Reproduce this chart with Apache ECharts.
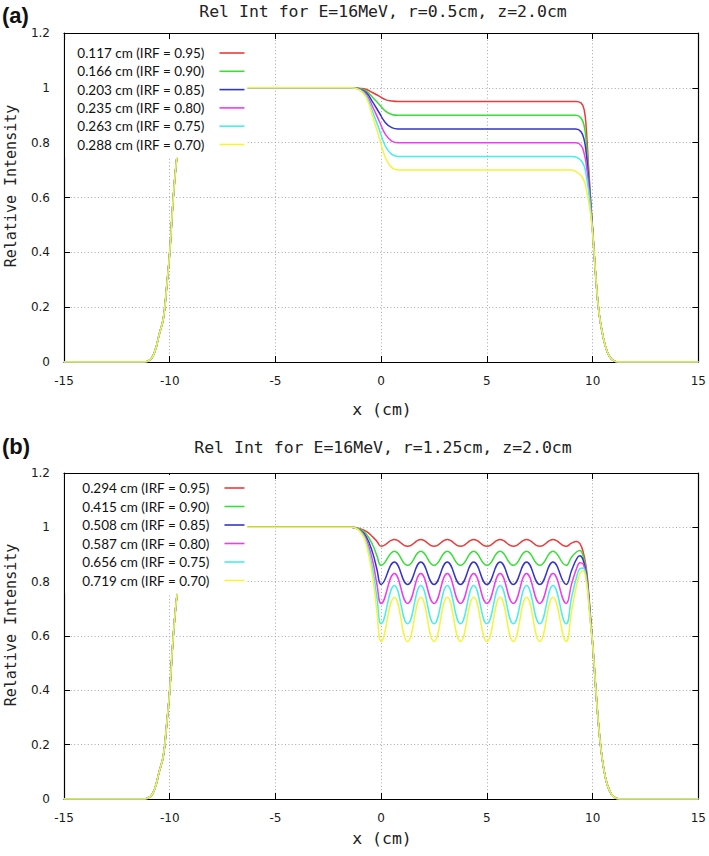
<!DOCTYPE html>
<html><head><meta charset="utf-8">
<script src="https://cdn.jsdelivr.net/npm/echarts@6/dist/echarts.min.js"></script>
<style>html,body{margin:0;padding:0;background:#fff}#c{width:709px;height:856px}</style>
</head><body><div id="c"></div>
<script>
// ---------- data ----------
const colors = ['#f03a3a', '#3ade3a', '#3434cc', '#ee3cee', '#46eeee', '#f4f43e'];
const legendA = ['0.117 cm (IRF = 0.95)', '0.166 cm (IRF = 0.90)', '0.203 cm (IRF = 0.85)',
                 '0.235 cm (IRF = 0.80)', '0.263 cm (IRF = 0.75)', '0.288 cm (IRF = 0.70)'];
const legendB = ['0.294 cm (IRF = 0.95)', '0.415 cm (IRF = 0.90)', '0.508 cm (IRF = 0.85)',
                 '0.587 cm (IRF = 0.80)', '0.656 cm (IRF = 0.75)', '0.719 cm (IRF = 0.70)'];
const titleA = 'Rel Int for E=16MeV, r=0.5cm, z=2.0cm';
const titleB = 'Rel Int for E=16MeV, r=1.25cm, z=2.0cm';
const xName = 'x (cm)';
const yName = 'Relative Intensity';

// panel (a): shared x positions (cm)
const xA = [-15, -11.2, -10.9, -10.7, -10.5, -10.3, -10.15, -10.0, -9.85, -9.7, -9.5, -9.3, -9.1, -8.8,
            -1.4, -1.0, -0.7, -0.4, -0.1, 0.2, 0.5, 0.8, 1.2,
            9.0, 9.2, 9.45, 9.6, 9.7, 9.8, 9.9,
            10.0, 10.15, 10.3, 10.5, 10.7, 10.9, 11.2, 15];
const yA95 = [0, 0, 0.01, 0.04, 0.1, 0.16, 0.27, 0.4, 0.58, 0.72, 0.85, 0.94, 0.98, 1,
              1, 0.998, 0.994, 0.982, 0.97, 0.957, 0.952, 0.95, 0.95,
              0.95, 0.95, 0.945, 0.92, 0.85, 0.72, 0.6,
              0.48, 0.31, 0.18, 0.09, 0.035, 0.01, 0, 0];
const yA90 = [0, 0, 0.01, 0.04, 0.1, 0.16, 0.27, 0.4, 0.58, 0.72, 0.85, 0.94, 0.98, 1,
              1, 0.997, 0.988, 0.965, 0.94, 0.915, 0.903, 0.90, 0.90,
              0.90, 0.90, 0.89, 0.86, 0.80, 0.70, 0.59,
              0.48, 0.31, 0.18, 0.09, 0.035, 0.01, 0, 0];
const yA85 = [0, 0, 0.01, 0.04, 0.1, 0.16, 0.27, 0.4, 0.58, 0.72, 0.85, 0.94, 0.98, 1,
              1, 0.995, 0.982, 0.948, 0.91, 0.873, 0.855, 0.85, 0.85,
              0.85, 0.85, 0.84, 0.81, 0.76, 0.68, 0.58,
              0.48, 0.31, 0.18, 0.09, 0.035, 0.01, 0, 0];
const yA80 = [0, 0, 0.01, 0.04, 0.1, 0.16, 0.27, 0.4, 0.58, 0.72, 0.85, 0.94, 0.98, 1,
              1, 0.994, 0.976, 0.93, 0.88, 0.83, 0.806, 0.80, 0.80,
              0.80, 0.80, 0.79, 0.76, 0.72, 0.65, 0.57,
              0.47, 0.31, 0.18, 0.09, 0.035, 0.01, 0, 0];
const yA75 = [0, 0, 0.01, 0.04, 0.1, 0.16, 0.27, 0.4, 0.58, 0.72, 0.85, 0.94, 0.98, 1,
              1, 0.992, 0.97, 0.912, 0.85, 0.787, 0.757, 0.75, 0.75,
              0.75, 0.748, 0.735, 0.715, 0.68, 0.63, 0.56,
              0.47, 0.31, 0.18, 0.09, 0.035, 0.01, 0, 0];
const yA70 = [0, 0, 0.01, 0.04, 0.1, 0.16, 0.27, 0.4, 0.58, 0.72, 0.85, 0.94, 0.98, 1,
              1, 0.991, 0.964, 0.895, 0.82, 0.745, 0.709, 0.70, 0.70,
              0.70, 0.695, 0.68, 0.66, 0.63, 0.59, 0.54,
              0.47, 0.31, 0.18, 0.09, 0.035, 0.01, 0, 0];

// panel (b): shared x positions (cm)
const xB = [-15, -11.2, -10.9, -10.7, -10.5, -10.3, -10.15, -10.0, -9.85, -9.7, -9.5, -9.3, -9.1, -8.8,
            -1.4, -1.0, -0.7, -0.4, -0.2,
            0, 0.625, 1.25, 1.875, 2.5, 3.125, 3.75, 4.375, 5, 5.625, 6.25, 6.875, 7.5, 8.125, 8.75,
            9.0, 9.25, 9.4, 9.55, 9.7, 9.8, 9.9,
            10.0, 10.1, 10.25, 10.4, 10.6, 10.8, 11.0, 11.3, 15];
const yB95 = [0, 0, 0.01, 0.04, 0.1, 0.16, 0.27, 0.4, 0.58, 0.72, 0.85, 0.94, 0.98, 1,
              1, 0.995, 0.985, 0.965, 0.948,
              0.93, 0.955, 0.93, 0.955, 0.93, 0.955, 0.93, 0.955, 0.93, 0.955, 0.93, 0.955, 0.93, 0.955, 0.93,
              0.942, 0.948, 0.94, 0.91, 0.85, 0.77, 0.67,
              0.57, 0.46, 0.3, 0.18, 0.08, 0.03, 0.008, 0, 0];
const yB90 = [0, 0, 0.01, 0.04, 0.1, 0.16, 0.27, 0.4, 0.58, 0.72, 0.85, 0.94, 0.98, 1,
              1, 0.993, 0.975, 0.935, 0.895,
              0.86, 0.912, 0.86, 0.912, 0.86, 0.912, 0.86, 0.912, 0.86, 0.912, 0.86, 0.912, 0.86, 0.912, 0.86,
              0.89, 0.91, 0.915, 0.895, 0.84, 0.76, 0.665,
              0.57, 0.46, 0.3, 0.18, 0.08, 0.03, 0.008, 0, 0];
const yB85 = [0, 0, 0.01, 0.04, 0.1, 0.16, 0.27, 0.4, 0.58, 0.72, 0.85, 0.94, 0.98, 1,
              1, 0.99, 0.965, 0.905, 0.845,
              0.79, 0.872, 0.79, 0.872, 0.79, 0.872, 0.79, 0.872, 0.79, 0.872, 0.79, 0.872, 0.79, 0.872, 0.79,
              0.84, 0.885, 0.895, 0.88, 0.83, 0.755, 0.66,
              0.57, 0.46, 0.3, 0.18, 0.08, 0.03, 0.008, 0, 0];
const yB80 = [0, 0, 0.01, 0.04, 0.1, 0.16, 0.27, 0.4, 0.58, 0.72, 0.85, 0.94, 0.98, 1,
              1, 0.988, 0.955, 0.875, 0.79,
              0.72, 0.83, 0.72, 0.83, 0.72, 0.83, 0.72, 0.83, 0.72, 0.83, 0.72, 0.83, 0.72, 0.83, 0.72,
              0.79, 0.85, 0.87, 0.865, 0.82, 0.75, 0.655,
              0.57, 0.46, 0.3, 0.18, 0.08, 0.03, 0.008, 0, 0];
const yB75 = [0, 0, 0.01, 0.04, 0.1, 0.16, 0.27, 0.4, 0.58, 0.72, 0.85, 0.94, 0.98, 1,
              1, 0.986, 0.945, 0.845, 0.74,
              0.645, 0.786, 0.645, 0.786, 0.645, 0.786, 0.645, 0.786, 0.645, 0.786, 0.645, 0.786, 0.645, 0.786, 0.645,
              0.74, 0.82, 0.848, 0.85, 0.81, 0.74, 0.65,
              0.57, 0.46, 0.3, 0.18, 0.08, 0.03, 0.008, 0, 0];
const yB70 = [0, 0, 0.01, 0.04, 0.1, 0.16, 0.27, 0.4, 0.58, 0.72, 0.85, 0.94, 0.98, 1,
              1, 0.984, 0.935, 0.815, 0.69,
              0.58, 0.743, 0.58, 0.743, 0.58, 0.743, 0.58, 0.743, 0.58, 0.743, 0.58, 0.743, 0.58, 0.743, 0.58,
              0.69, 0.79, 0.83, 0.84, 0.8, 0.73, 0.645,
              0.57, 0.46, 0.3, 0.18, 0.08, 0.03, 0.008, 0, 0];

const seriesA = [yA95, yA90, yA85, yA80, yA75, yA70];
const seriesB = [yB95, yB90, yB85, yB80, yB75, yB70];

// ---------- chart ----------
const TICK_FONT = 'DejaVu Sans';
const MONO = 'DejaVu Sans Mono';
const zip = (xs, ys) => xs.map((x, i) => [x, ys[i]]);

function xAxes(gi) {
  const common = { gridIndex: gi, type: 'value', min: -15, max: 15, interval: 5 };
  return [
    Object.assign({}, common, {
      position: 'bottom',
      axisLine: { show: true, onZero: false, lineStyle: { color: '#000', width: 1.2 } },
      axisTick: { show: true, inside: true, length: 6, lineStyle: { color: '#000', width: 1 } },
      axisLabel: { margin: 13, fontFamily: TICK_FONT, fontSize: 12, color: '#1a1a1a' },
      splitLine: { show: true, lineStyle: { color: '#a8a8a8', width: 1, type: [1, 2.4] } }
    }),
    Object.assign({}, common, {
      position: 'top',
      axisLine: { show: true, onZero: false, lineStyle: { color: '#000', width: 1.2 } },
      axisTick: { show: true, inside: true, length: 6, lineStyle: { color: '#000', width: 1 } },
      axisLabel: { show: false }, splitLine: { show: false }
    })
  ];
}
function yAxes(gi) {
  const common = { gridIndex: gi, type: 'value', min: 0, max: 1.2, interval: 0.2 };
  return [
    Object.assign({}, common, {
      position: 'left',
      axisLine: { show: true, onZero: false, lineStyle: { color: '#000', width: 1.2 } },
      axisTick: { show: true, inside: true, length: 6, lineStyle: { color: '#000', width: 1 } },
      axisLabel: { margin: 14, fontFamily: TICK_FONT, fontSize: 12, color: '#1a1a1a' },
      splitLine: { show: true, lineStyle: { color: '#a8a8a8', width: 1, type: [1, 2.4] } }
    }),
    Object.assign({}, common, {
      position: 'right',
      axisLine: { show: true, onZero: false, lineStyle: { color: '#000', width: 1.2 } },
      axisTick: { show: true, inside: true, length: 6, lineStyle: { color: '#000', width: 1 } },
      axisLabel: { show: false }, splitLine: { show: false }
    })
  ];
}

const series = [];
seriesA.forEach((ys, i) => series.push({
  name: legendA[i], type: 'line', xAxisIndex: 0, yAxisIndex: 0,
  data: zip(xA, ys), showSymbol: false, symbol: 'none', smooth: 0.45,
  lineStyle: { color: colors[i], width: 1.5 }, itemStyle: { color: colors[i] }, z: 2 + i * 0.01
}));
seriesB.forEach((ys, i) => series.push({
  name: legendB[i], type: 'line', xAxisIndex: 2, yAxisIndex: 2,
  data: zip(xB, ys), showSymbol: false, symbol: 'none', smooth: 0.45,
  lineStyle: { color: colors[i], width: 1.5 }, itemStyle: { color: colors[i] }, z: 2 + i * 0.01
}));

const legendText = { fontFamily: 'Lato', fontSize: 13.5, color: '#111', lineHeight: 14, padding: [0, 10, 0, 0] };

const option = {
  animation: false,
  backgroundColor: '#fff',
  grid: [
    { left: 64, top: 33, width: 635, height: 329 },
    { left: 64, top: 473, width: 635, height: 326 }
  ],
  xAxis: xAxes(0).concat(xAxes(1)),
  yAxis: yAxes(0).concat(yAxes(1)),
  legend: [
    { data: legendA, orient: 'vertical', align: 'right', left: 65, top: 40,
      padding: [6, 2, 6, 12], itemGap: 4.3, itemWidth: 25, itemHeight: 14,
      itemStyle: { opacity: 0 }, lineStyle: { width: 1.6 },
      backgroundColor: '#fff', textStyle: legendText, selectedMode: false, z: 10 },
    { data: legendB, orient: 'vertical', align: 'right', left: 65, top: 475,
      padding: [6, 2, 6, 17], itemGap: 4.5, itemWidth: 20, itemHeight: 14,
      itemStyle: { opacity: 0 }, lineStyle: { width: 1.6 },
      backgroundColor: '#fff', textStyle: legendText, selectedMode: false, z: 10 }
  ],
  graphic: [
    { type: 'text', x: 2, y: 15, style: { text: '(a)', font: 'bold 22px "Liberation Sans"', fill: '#111', verticalAlign: 'middle' } },
    { type: 'text', x: 383, y: 11, style: { text: titleA, font: '16.5px "' + MONO + '"', fill: '#222', align: 'center', verticalAlign: 'middle' } },
    { type: 'text', x: 382, y: 409, style: { text: xName, font: '16.5px "' + MONO + '"', fill: '#222', align: 'center', verticalAlign: 'middle' } },
    { type: 'text', x: 11, y: 186, rotation: Math.PI / 2, style: { text: yName, font: '15px "' + MONO + '"', fill: '#222', align: 'center', verticalAlign: 'middle' } },
    { type: 'text', x: 2, y: 446, style: { text: '(b)', font: 'bold 22px "Liberation Sans"', fill: '#111', verticalAlign: 'middle' } },
    { type: 'text', x: 383, y: 447, style: { text: titleB, font: '16.5px "' + MONO + '"', fill: '#222', align: 'center', verticalAlign: 'middle' } },
    { type: 'text', x: 382, y: 838, style: { text: xName, font: '16.5px "' + MONO + '"', fill: '#222', align: 'center', verticalAlign: 'middle' } },
    { type: 'text', x: 11, y: 625, rotation: Math.PI / 2, style: { text: yName, font: '15px "' + MONO + '"', fill: '#222', align: 'center', verticalAlign: 'middle' } }
  ],
  series: series
};

const chart = echarts.init(document.getElementById('c'), null, { renderer: 'svg' });
chart.setOption(option);
</script>
</body></html>
